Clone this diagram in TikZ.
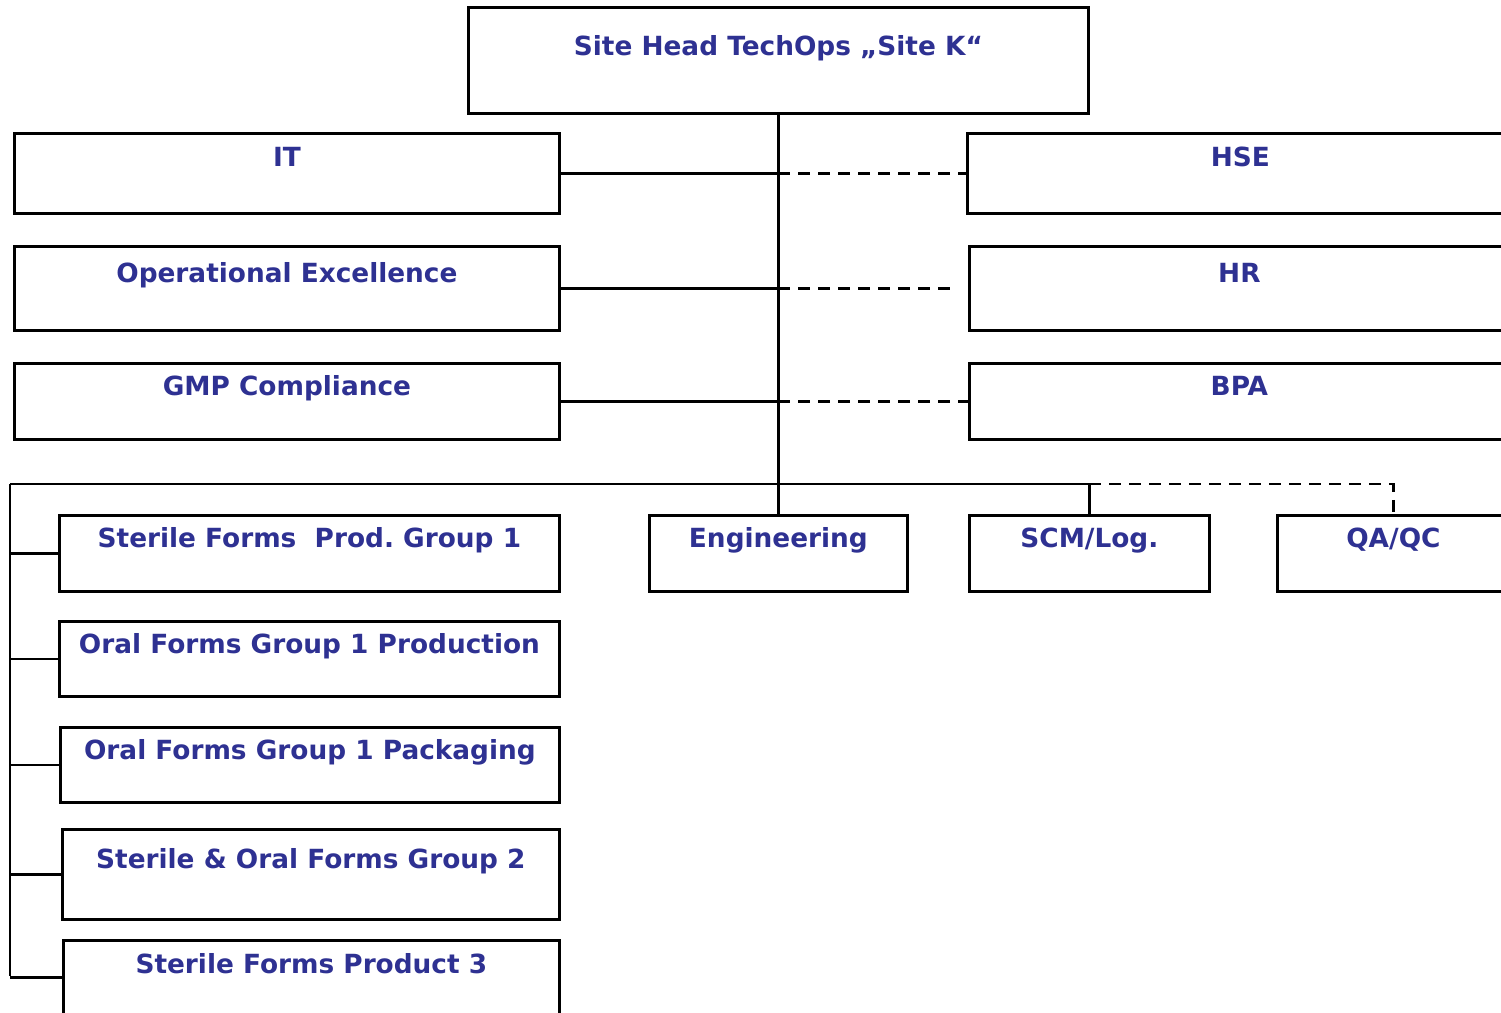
\documentclass[tikz,border=0pt]{standalone}
\usepackage{fontspec}
\setmainfont{DejaVu Sans}
\usetikzlibrary{calc}
\definecolor{titleblue}{RGB}{46,49,146}
\frenchspacing

\begin{document}
\begin{tikzpicture}[
  x=0.02cm, y=-0.02cm,
  box/.style={draw, line width=1.6pt, anchor=north west, inner sep=0pt},
  sz/.style 2 args={minimum width=#1*0.02cm, minimum height=#2*0.02cm},
  ttl/.style={text=titleblue, font=\bfseries\fontsize{15}{18}\selectfont,
              inner sep=0pt, anchor=base, yshift=-#1},
  ttl/.default=0.7cm,
  link/.style={line width=1.25pt},
  dline/.style={link, dash pattern=on 0.24cm off 0.16cm}
]
\clip (0,0) rectangle (1501,1013);

\node[box,sz={620}{106},label={[ttl=1cm]north:Site Head TechOps „Site K“}] (head) at (467,6) {};

% staff functions
\node[box,sz={545}{80},label={[ttl]north:IT}] (it) at (13,132) {};
\node[box,sz={546}{80},label={[ttl]north:HSE}] (hse) at (966,132) {};
\node[box,sz={545}{84},label={[ttl=0.76cm]north:Operational Excellence}] (opex) at (13,245) {};
\node[box,sz={540}{84},label={[ttl=0.76cm]north:HR}] (hr) at (968,245) {};
\node[box,sz={545}{76},label={[ttl=0.68cm]north:GMP Compliance}] (gmp) at (13,362) {};
\node[box,sz={540}{76},label={[ttl=0.68cm]north:BPA}] (bpa) at (968,362) {};

% line functions
\node[box,sz={258}{76},label={[ttl=0.68cm]north:Engineering}] (eng) at (648,514) {};
\node[box,sz={240}{76},label={[ttl=0.68cm]north:SCM/Log.}] (scm) at (968,514) {};
\node[box,sz={232}{76},label={[ttl=0.68cm]north:QA/QC}] (qa) at (1276,514) {};

% production groups
\node[box,sz={500}{76},label={[ttl=0.68cm]north:Sterile Forms\ \ Prod. Group 1}] (sf1) at (58,514) {};
\node[box,sz={500}{75},label={[ttl=0.68cm]north:Oral Forms Group 1 Production}] (ofp) at (58,620) {};
\node[box,sz={499}{75},label={[ttl=0.68cm]north:Oral Forms Group 1 Packaging}] (ofk) at (59,726) {};
\node[box,sz={497}{90},label={[ttl=0.82cm]north:Sterile \& Oral Forms Group 2}] (sog) at (61,828) {};
\node[box,sz={496}{74},label={[ttl=0.68cm]north:Sterile Forms Product 3}] (sf3) at (62,939) {};

\coordinate (busl) at (10,484);
\coordinate (busb) at (10,976);

% trunk and staff links
\draw[link] (head.south) -- (eng.north);
\draw[link] (it.east) -- (it.east -| head.south);
\draw[dline] (it.east -| head.south) -- (hse.west);
\draw[link] (opex.east) -- (opex.east -| head.south);
\draw[dline] (opex.east -| head.south) -- ([xshift=-0.2cm]hr.west);
\draw[link] (gmp.east) -- (gmp.east -| head.south);
\draw[dline] (gmp.east -| head.south) -- (bpa.west);

% bus to line functions
\draw[link] (busl) -- (busl -| scm.north) -- (scm.north);
\draw[dline] (busl -| scm.north) -| (qa.north);

% left bus to production groups
\draw[link] (busl) -- (busb);
\foreach \g in {sf1,ofp,ofk,sog,sf3}
  \draw[link] (busl |- \g.west) -- (\g.west);
\end{tikzpicture}
\end{document}
